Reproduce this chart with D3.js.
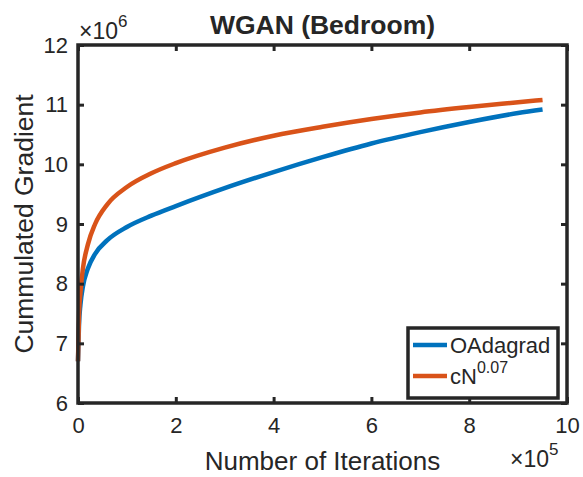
<!DOCTYPE html>
<html><head><meta charset="utf-8">
<script src="https://cdn.jsdelivr.net/npm/d3@7"></script>
<style>body{margin:0;background:#fff}svg{display:block}text{font-family:"Liberation Sans",Arial,Helvetica,sans-serif;fill:#262626}</style>
</head><body>
<script>
const iterations = [0, 0.02, 0.05, 0.1, 0.2, 0.35, 0.6, 1.0, 1.5, 2, 3, 4, 5, 6, 7, 8, 9, 9.5]; // x 1e5
const oadagrad   = [6.7, 7.3, 7.65, 7.95, 8.25, 8.5, 8.73, 8.95, 9.14, 9.3, 9.6, 9.87, 10.12, 10.35, 10.54, 10.71, 10.86, 10.92]; // x 1e6
const cN007      = [6.7, 7.45, 7.85, 8.25, 8.65, 9.0, 9.33, 9.62, 9.85, 10.02, 10.28, 10.48, 10.63, 10.76, 10.87, 10.96, 11.04, 11.08];
const xTicks = [0, 2, 4, 6, 8, 10];
const yTicks = [6, 7, 8, 9, 10, 11, 12];
const seriesNames = ["OAdagrad", "cN"];
const colors = ["#0072BD", "#D95319"];

const W = 583, H = 477;
const m = {l: 78, r: 16, t: 45, b: 74};
const svg = d3.select("body").append("svg").attr("width", W).attr("height", H);
const x = d3.scaleLinear().domain([0, 10]).range([m.l, W - m.r]);
const y = d3.scaleLinear().domain([6, 12]).range([H - m.b, m.t]);

const line = d3.line().x(d => x(d[0])).y(d => y(d[1])).curve(d3.curveMonotoneX);
[oadagrad, cN007].forEach((s, i) => {
  svg.append("path").datum(iterations.map((v, j) => [v, s[j]]))
    .attr("d", line).attr("fill", "none").attr("stroke", colors[i])
    .attr("stroke-width", 4.5).attr("stroke-linecap", "butt");
});

const fs = 22;
const axStyle = g => {
  g.select(".domain").remove();
  g.selectAll(".tick line").attr("stroke", "#262626").attr("stroke-width", 3);
  g.selectAll(".tick text").style("font-size", fs + "px").attr("fill", "#262626");
};
svg.append("g").attr("transform", `translate(0,${H - m.b})`)
  .call(d3.axisBottom(x).tickValues(xTicks).tickSize(-6).tickPadding(14).tickFormat(d3.format("d"))).call(axStyle);
svg.append("g").attr("transform", `translate(0,${m.t})`)
  .call(d3.axisTop(x).tickValues(xTicks).tickSize(-6).tickFormat("")).call(axStyle);
svg.append("g").attr("transform", `translate(${m.l},0)`)
  .call(d3.axisLeft(y).tickValues(yTicks).tickSize(-6).tickPadding(10).tickFormat(d3.format("d"))).call(axStyle);
svg.append("g").attr("transform", `translate(${W - m.r},0)`)
  .call(d3.axisRight(y).tickValues(yTicks).tickSize(-6).tickFormat("")).call(axStyle);

svg.append("rect").attr("x", m.l).attr("y", m.t).attr("width", W - m.r - m.l).attr("height", H - m.b - m.t)
  .attr("fill", "none").attr("stroke", "#262626").attr("stroke-width", 3.5);

// exponents
const e6 = svg.append("text").attr("x", m.l + 1).attr("y", 39).style("font-size", "23px");
e6.append("tspan").text("\u00d710");
e6.append("tspan").attr("dy", -12).style("font-size", "17px").text("6");
const e5 = svg.append("text").attr("x", 510).attr("y", 467).style("font-size", "23px");
e5.append("tspan").text("\u00d710");
e5.append("tspan").attr("dy", -12).style("font-size", "17px").text("5");

svg.append("text").attr("x", (m.l + W - m.r) / 2).attr("y", 34).attr("text-anchor", "middle")
  .style("font-size", "26.5px").style("font-weight", "bold").attr("fill", "#000").text("WGAN (Bedroom)");
svg.append("text").attr("x", (m.l + W - m.r) / 2).attr("y", 470).attr("text-anchor", "middle")
  .style("font-size", "26px").text("Number of Iterations");
svg.append("text").attr("transform", `translate(33,${(m.t + H - m.b) / 2}) rotate(-90)`).attr("text-anchor", "middle")
  .style("font-size", "26.5px").text("Cummulated Gradient");

// legend
const lg = svg.append("g");
lg.append("rect").attr("x", 408).attr("y", 328).attr("width", 150).attr("height", 70)
  .attr("fill", "#fff").attr("stroke", "#262626").attr("stroke-width", 3.5);
[0, 1].forEach(i => {
  const yy = 345 + i * 31;
  lg.append("line").attr("x1", 413).attr("x2", 447).attr("y1", yy).attr("y2", yy)
    .attr("stroke", colors[i]).attr("stroke-width", 4.5);
  const t = lg.append("text").attr("x", 450).attr("y", yy + 8).style("font-size", "22px");
  t.append("tspan").text(seriesNames[i]);
  if (i === 1) t.append("tspan").attr("dy", -11).style("font-size", "16px").text("0.07");
});
</script>
</body></html>
